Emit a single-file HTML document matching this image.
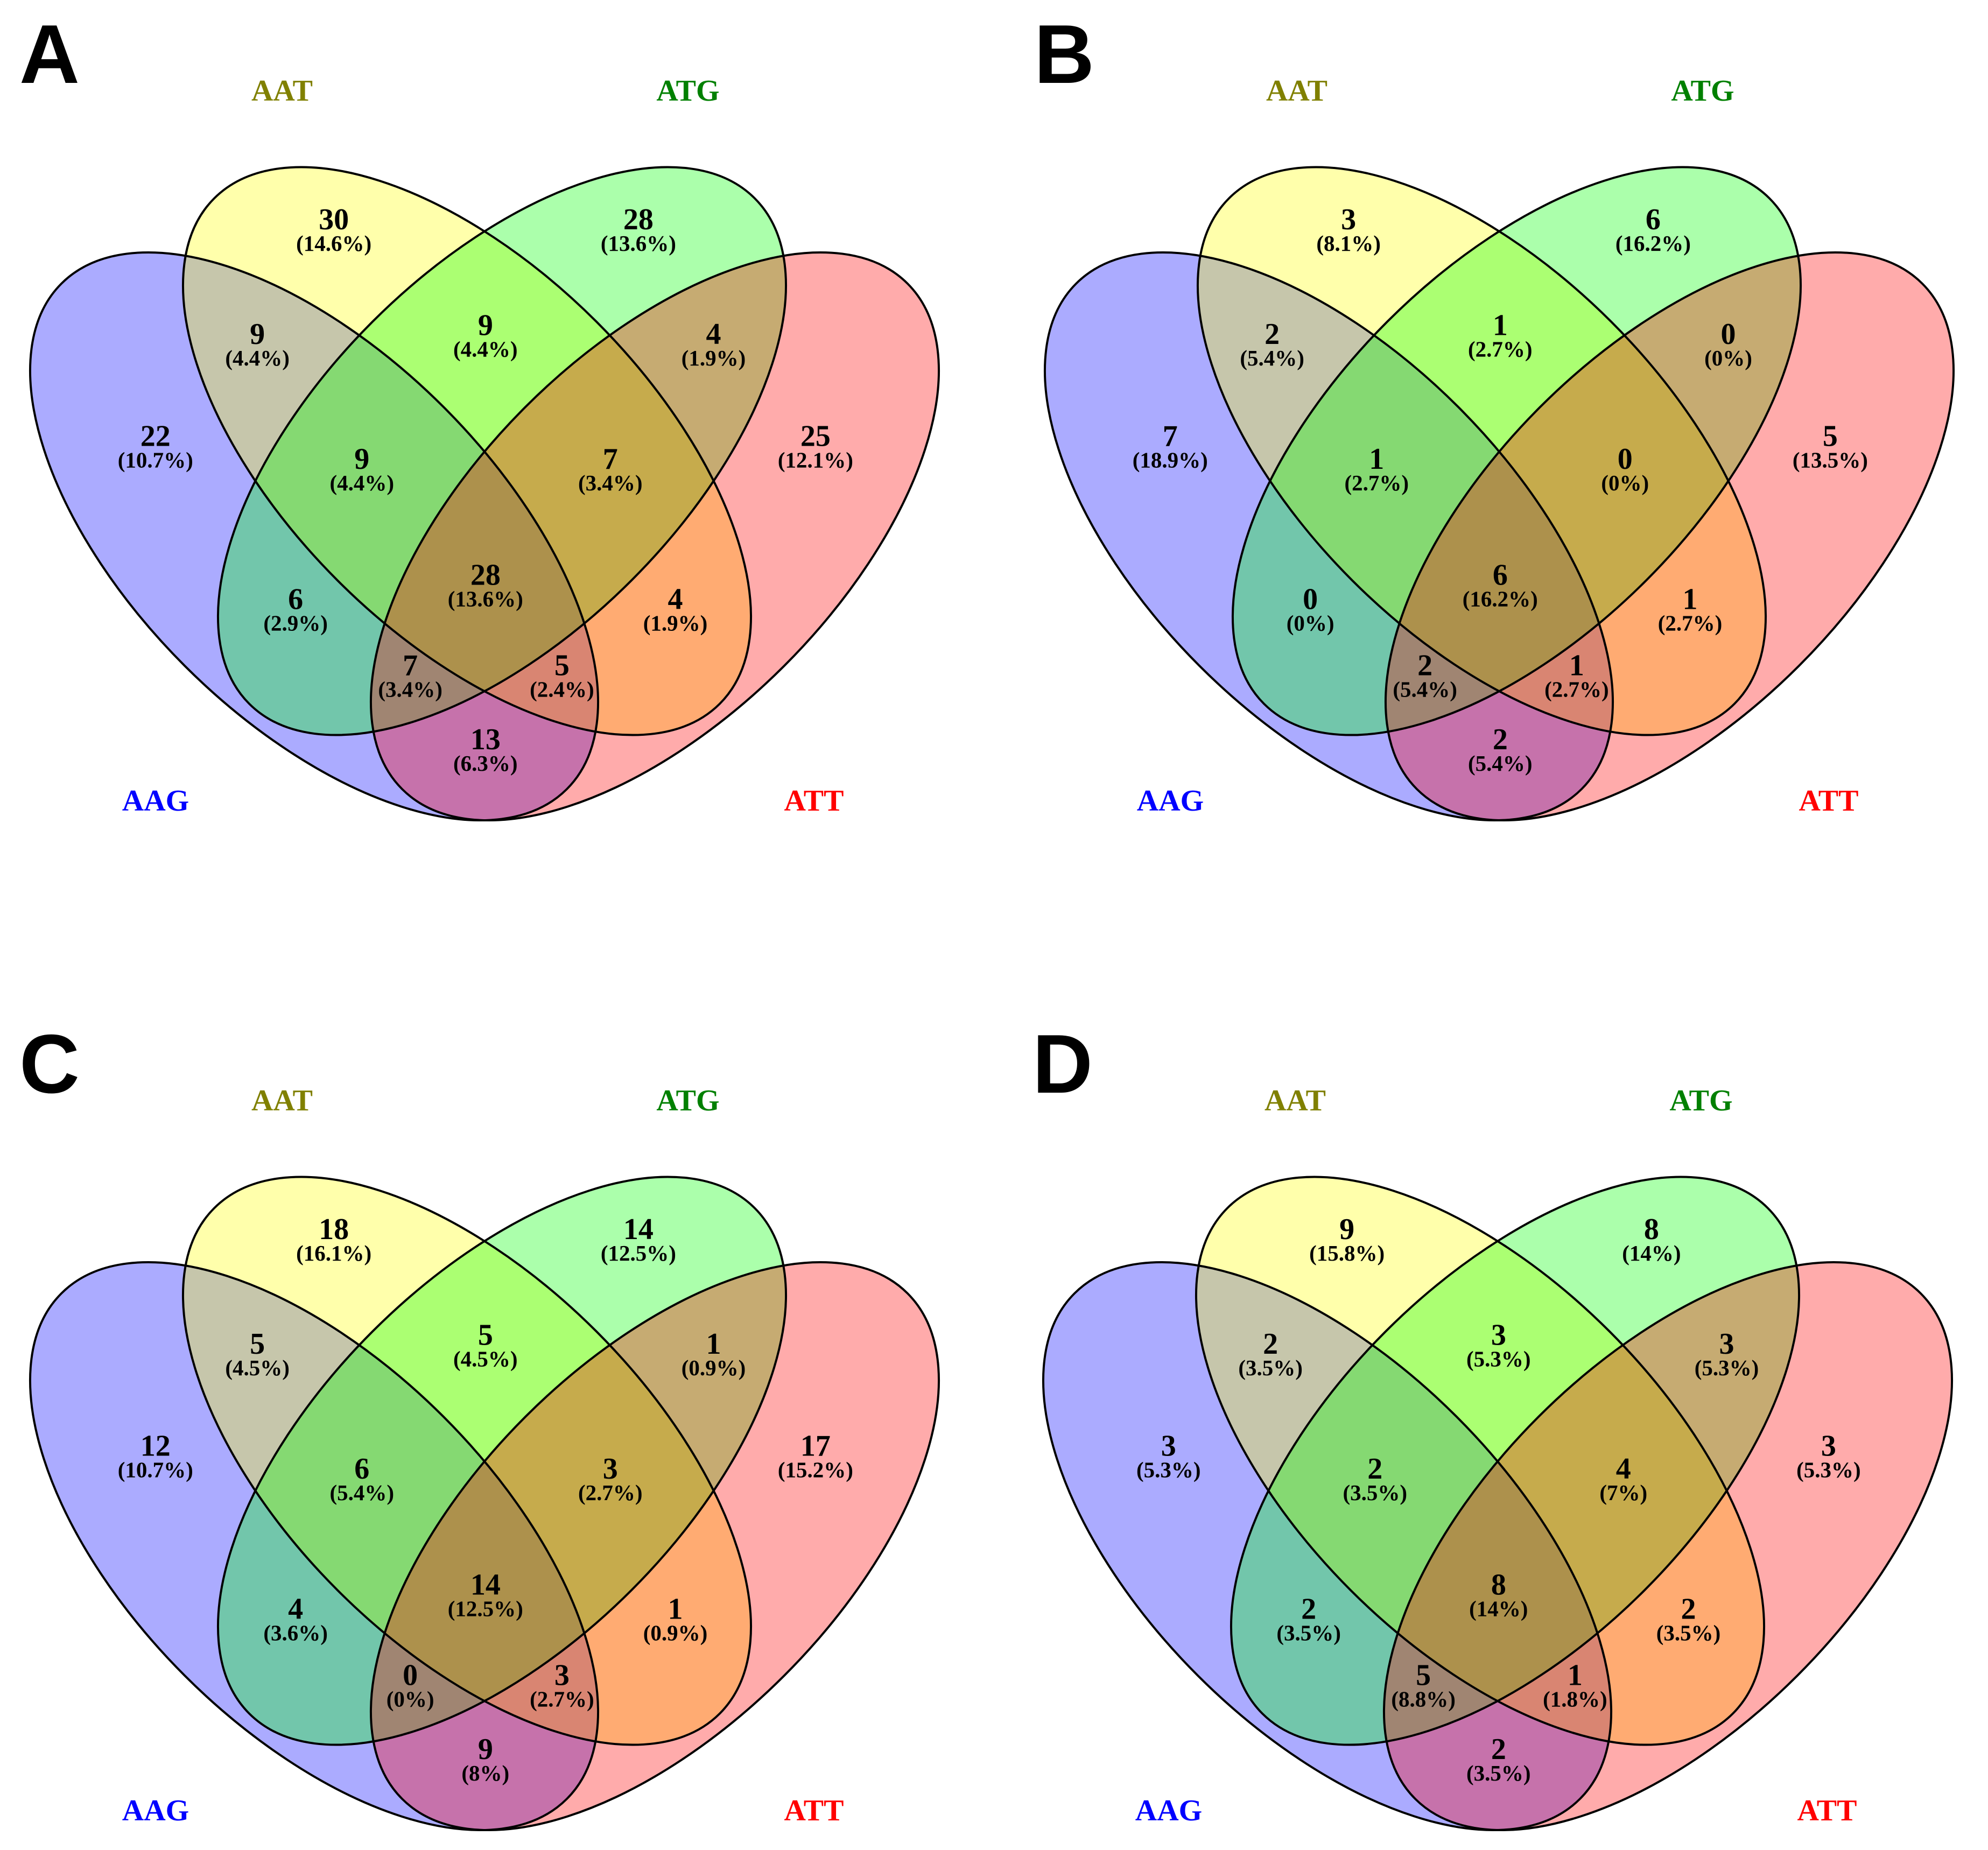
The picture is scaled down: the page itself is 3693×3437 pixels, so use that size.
<!DOCTYPE html>
<html><head><meta charset="utf-8"><style>
html,body{margin:0;padding:0;background:#fff;}
svg{display:block;}
text{font-family:"Liberation Serif",serif;font-weight:bold;}
</style></head><body>
<svg id="fig" width="3693" height="3437" viewBox="0 0 3693 3437" xmlns="http://www.w3.org/2000/svg"></svg>
<script>
const panelNames = ["A","B","C","D"];
const setNames = ["AAG","AAT","ATG","ATT"];
const countsA = [30,28,9,9,4,22,25,9,7,28,6,4,7,5,13];
const pctsA = ["14.6%","13.6%","4.4%","4.4%","1.9%","10.7%","12.1%","4.4%","3.4%","13.6%","2.9%","1.9%","3.4%","2.4%","6.3%"];
const countsB = [3,6,2,1,0,7,5,1,0,6,0,1,2,1,2];
const pctsB = ["8.1%","16.2%","5.4%","2.7%","0%","18.9%","13.5%","2.7%","0%","16.2%","0%","2.7%","5.4%","2.7%","5.4%"];
const countsC = [18,14,5,5,1,12,17,6,3,14,4,1,0,3,9];
const pctsC = ["16.1%","12.5%","4.5%","4.5%","0.9%","10.7%","15.2%","5.4%","2.7%","12.5%","3.6%","0.9%","0%","2.7%","8%"];
const countsD = [9,8,2,3,3,3,3,2,4,8,2,2,5,1,2];
const pctsD = ["15.8%","14%","3.5%","5.3%","5.3%","5.3%","5.3%","3.5%","7%","14%","3.5%","3.5%","8.8%","1.8%","3.5%"];

const NS="http://www.w3.org/2000/svg";
const svg=document.getElementById('fig');
const S=2.367;
const regionPos=[[262,172],[501,172],[202,262],[381,255],[560,262],[122,342],[640,342],[284,360],[479,360],[381,451],[232,470],[530,470],[322,522],[441,522],[381,580]];
const offsets=[[0,0],[1885,0],[0,1876],[1882,1876]];
const ell=[{cx:583.5,cy:996.5,r:45,fill:"#0000ff"},{cx:867.5,cy:838,r:45,fill:"#ffff00"},{cx:932.5,cy:838,r:-45,fill:"#00ff00"},{cx:1216.5,cy:996.5,r:-45,fill:"#ff0000"}];
const labels=[{t:"AAG",x:289,y:1506,c:"#0000ff"},{t:"AAT",x:524,y:187,c:"#808000"},{t:"ATG",x:1278,y:187,c:"#008000"},{t:"ATT",x:1512,y:1506,c:"#ff0000"}];
const allCounts=[countsA,countsB,countsC,countsD];
const allPcts=[pctsA,pctsB,pctsC,pctsD];
function mk(tag,attrs){const e=document.createElementNS(NS,tag);for(const k in attrs)e.setAttribute(k,attrs[k]);return e;}
panelNames.forEach((pn,pi)=>{
  const [ox,oy]=offsets[pi];
  const g=mk('g',{transform:`translate(${ox},${oy})`});
  
  
  svg.appendChild(g);
  const L=mk('text',{x:36,y:154,'font-size':155,fill:'#000'});
  L.setAttribute('style','font-family:"Liberation Sans",sans-serif;font-weight:bold');
  L.textContent=pn;
  
  
  g.appendChild(L);
  ell.forEach((e,i)=>{
    const el=mk('ellipse',{cx:e.cx,cy:e.cy,rx:664,ry:340,transform:`rotate(${e.r} ${e.cx} ${e.cy})`,fill:e.fill,'fill-opacity':0.33,stroke:'none'});
    
    
    g.appendChild(el);
  });
  ell.forEach((e,i)=>{
    const el=mk('ellipse',{cx:e.cx,cy:e.cy,rx:664,ry:340,transform:`rotate(${e.r} ${e.cx} ${e.cy})`,fill:'none',stroke:'#000','stroke-width':4});
    
    
    g.appendChild(el);
  });
  labels.forEach(l=>{
    const t=mk('text',{x:l.x,y:l.y,'font-size':56,fill:l.c,'text-anchor':'middle'});
    t.textContent=l.t;
    
    
    g.appendChild(t);
  });
  const cs=allCounts[pi], ps=allPcts[pi];
  regionPos.forEach((p,ri)=>{
    const x=p[0]*S, y=p[1]*S;
    const n=mk('text',{x:x,y:y+19,'font-size':56,fill:'#000','text-anchor':'middle'});
    n.textContent=cs[ri];
    
    
    g.appendChild(n);
    const q=mk('text',{x:x,y:y+59,'font-size':41,fill:'#000','text-anchor':'middle'});
    q.textContent='('+ps[ri]+')';
    
    
    g.appendChild(q);
  });
});
</script>
</body></html>
